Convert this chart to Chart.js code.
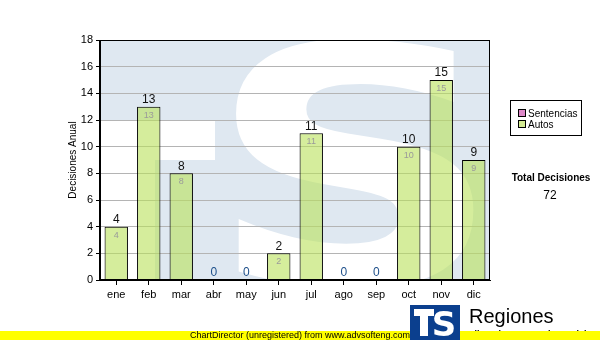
<!DOCTYPE html>
<html>
<head>
<meta charset="utf-8">
<script src="https://cdn.jsdelivr.net/npm/chart.js@4"></script>
<style>
  html, body { margin: 0; padding: 0; background: #fff; }
  #wrap { width: 600px; height: 340px; }
</style>
</head>
<body>
<div id="wrap"><canvas id="chart" width="600" height="340"></canvas></div>
<script>
// --- data ---
const months = ['ene', 'feb', 'mar', 'abr', 'may', 'jun', 'jul', 'ago', 'sep', 'oct', 'nov', 'dic'];
const sentencias = [0, 0, 0, 0, 0, 0, 0, 0, 0, 0, 0, 0];
const autos = [4, 13, 8, 0, 0, 2, 11, 0, 0, 10, 15, 9];
const yTicks = [0, 2, 4, 6, 8, 10, 12, 14, 16, 18];
const totalDecisiones = 72;

const FONT = '"Liberation Sans", Arial, sans-serif';

// plot background with the faded logo watermark
const backdrop = {
    id: 'backdrop',
    beforeDraw(chart) {
        const { ctx, chartArea: a } = chart;
        ctx.save();
        ctx.beginPath();
        ctx.rect(a.left, a.top, a.right - a.left, a.bottom - a.top);
        ctx.clip();
        ctx.fillStyle = '#dfe8f1';
        ctx.fillRect(a.left, a.top, a.right - a.left, a.bottom - a.top);
        ctx.fillStyle = '#ffffff';
        ctx.fillRect(a.left, a.top + 80, 115, 40);
        ctx.fillRect(a.left, a.top + 80, 55, a.bottom - a.top - 80);
        ctx.translate(355, a.bottom + 4);
        ctx.scale(1.25, 1);
        ctx.font = 'bold 330px "DejaVu Sans"';
        ctx.textAlign = 'center';
        ctx.textBaseline = 'alphabetic';
        ctx.fillText('S', 0, 0);
        ctx.restore();
    }
};

// labels, frame, legend, totals and footer
const extras = {
    id: 'extras',
    afterDatasetsDraw(chart) {
        const { ctx, chartArea: a } = chart;
        const meta = chart.getDatasetMeta(1);
        ctx.save();
        ctx.textAlign = 'center';
        meta.data.forEach((bar, i) => {
            const v = autos[i];
            ctx.font = '12px ' + FONT;
            ctx.textBaseline = 'bottom';
            ctx.fillStyle = v === 0 ? '#1d4f8a' : '#111';
            ctx.fillText(String(v), bar.x, bar.y - 1);
            if (v > 0) {
                ctx.font = '9px ' + FONT;
                ctx.textBaseline = 'top';
                ctx.fillStyle = '#9a9a9a';
                ctx.fillText(String(v), bar.x, bar.y + 4);
            }
        });
        // plot frame
        ctx.strokeStyle = '#000';
        ctx.lineWidth = 1;
        ctx.strokeRect(Math.round(a.left) - 0.5, Math.round(a.top) + 0.5, Math.round(a.right - a.left), Math.round(a.bottom - a.top) - 1);

        // legend box
        ctx.strokeRect(510.5, 100.5, 71, 35);
        ctx.font = '10px ' + FONT;
        ctx.textAlign = 'left';
        ctx.textBaseline = 'middle';
        const items = [['Sentencias', '#dd88c8'], ['Autos', '#d4ec94']];
        items.forEach((it, k) => {
            const y = 113 + k * 11;
            ctx.fillStyle = it[1];
            ctx.fillRect(518.5, y - 3.5, 7, 7);
            ctx.strokeRect(518.5, y - 3.5, 7, 7);
            ctx.fillStyle = '#000';
            ctx.fillText(it[0], 528, y + 1);
        });

        // total
        ctx.textAlign = 'center';
        ctx.font = 'bold 10px ' + FONT;
        ctx.fillText('Total Decisiones', 551, 178);
        ctx.font = '12px ' + FONT;
        ctx.fillText(String(totalDecisiones), 550, 196);

        // logo text
        ctx.textAlign = 'left';
        ctx.textBaseline = 'alphabetic';
        ctx.font = '20px ' + FONT;
        ctx.fillStyle = '#000';
        ctx.fillText('Regiones', 469, 323);
        ctx.font = 'bold 9px ' + FONT;
        ctx.fillText('Tribunal Supremo de Justicia', 466, 337);

        // footer band
        ctx.fillStyle = '#ffff00';
        ctx.fillRect(0, 331, 600, 9);
        ctx.fillStyle = '#000';
        ctx.font = '9px ' + FONT;
        ctx.textAlign = 'center';
        ctx.textBaseline = 'middle';
        ctx.fillText('ChartDirector (unregistered) from www.advsofteng.com', 300, 335.5);

        // logo box
        ctx.fillStyle = '#0b3f8e';
        ctx.fillRect(410, 305, 50, 35);
        ctx.fillStyle = '#fff';
        ctx.fillRect(414, 309, 20, 7);
        ctx.fillRect(420, 309, 8, 27);
        ctx.font = 'bold 34px "DejaVu Sans"';
        ctx.textAlign = 'center';
        ctx.textBaseline = 'alphabetic';
        ctx.fillText('S', 444, 336);
        ctx.restore();
    }
};

new Chart(document.getElementById('chart'), {
    type: 'bar',
    data: {
        labels: months,
        datasets: [
            { label: 'Sentencias', data: sentencias, backgroundColor: 'rgba(214, 110, 190, 0.7)', borderColor: '#000', borderWidth: 1 },
            { label: 'Autos', data: autos, backgroundColor: 'rgba(185, 225, 90, 0.6)', borderColor: '#000', borderWidth: 1 }
        ]
    },
    options: {
        responsive: false,
        animation: false,
        layout: { padding: { left: 67, right: 110, top: 40, bottom: 0 } },
        datasets: { bar: { categoryPercentage: 1, barPercentage: 0.72 } },
        plugins: { legend: { display: false }, tooltip: { enabled: false } },
        scales: {
            x: {
                stacked: true,
                afterFit(scale) { scale.height = 60; },
                grid: { offset: false, drawOnChartArea: false, drawTicks: true, tickLength: 5, tickColor: '#000' },
                border: { display: true, color: '#000' },
                ticks: { color: '#000', font: { family: FONT, size: 11 }, padding: 3 }
            },
            y: {
                stacked: true,
                min: 0,
                max: 18,
                afterFit(scale) { scale.width = 33; },
                afterBuildTicks(scale) { scale.ticks = yTicks.map(v => ({ value: v })); },
                grid: { color: '#b4b4b4', drawTicks: true, tickLength: 4, tickColor: '#000' },
                border: { display: true, color: '#000' },
                ticks: { color: '#000', font: { family: FONT, size: 11 }, padding: 3 },
                title: { display: true, text: 'Decisiones Anual', color: '#000', font: { family: FONT, size: 10 }, padding: 0 }
            }
        }
    },
    plugins: [backdrop, extras]
});
</script>
</body>
</html>
